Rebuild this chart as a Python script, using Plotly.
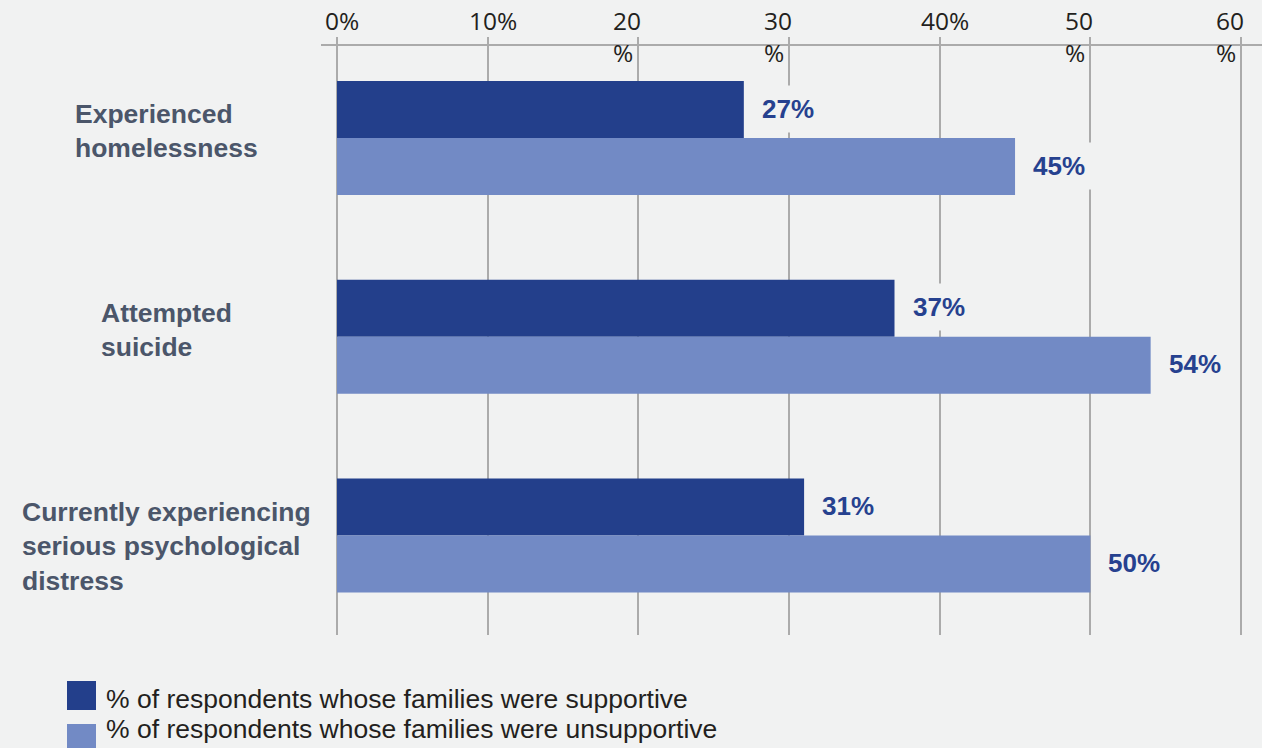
import plotly.graph_objects as go

# ---------------- data ----------------
categories = ["Experienced homelessness", "Attempted suicide",
              "Currently experiencing serious psychological distress"]
category_labels = ["Experienced<br>homelessness", "Attempted<br>suicide",
                   "Currently experiencing<br>serious psychological<br>distress"]
supportive = [27, 37, 31]
unsupportive = [45, 54, 50]
series_names = ["% of respondents whose families were supportive",
                "% of respondents whose families were unsupportive"]
tick_vals = [0, 10, 20, 30, 40, 50, 60]
tick_labels = ["0%", "10%", "20<br>%", "30<br>%", "40%", "50<br>%", "60<br>%"]

# ---------------- style ----------------
BG = "#f1f2f2"
DARK = "#233f8b"
LIGHT = "#728ac5"
LABEL_BLUE = "#26418f"
CAT_COLOR = "#4b566a"
GRID = "#ababab"
TEXT = "#231f20"

W, H = 1262, 748
M_L, M_R, M_T, M_B = 321, 0, 46, 113
PW, PH = W - M_L - M_R, H - M_T - M_B
BARGAP = 0.4264


def px_x(px):
    return (px - M_L) / PW


def px_y(py):
    return (H - M_B - py) / PH


fig = go.Figure()
for name, vals, col in [(series_names[0], supportive, DARK),
                        (series_names[1], unsupportive, LIGHT)]:
    fig.add_trace(go.Bar(
        y=categories, x=vals, name=name, orientation="h",
        marker=dict(color=col, line=dict(width=0)),
        showlegend=False, hoverinfo="x+name",
    ))

annotations = []
# tick labels (top axis)
for v, lab in zip(tick_vals, tick_labels):
    wrapped = "<br>" in lab
    annotations.append(dict(
        x=v, xref="x", y=px_y(2), yref="paper",
        text=lab, showarrow=False,
        xanchor="left" if wrapped else "center",
        xshift=-27 if wrapped else 5,
        yanchor="top", align="left",
        font=dict(family="Open Sans", size=24.5, color=TEXT),
    ))

# category labels
for cat, lab in zip(categories, category_labels):
    annotations.append(dict(
        x=px_x(166), xref="paper", y=cat, yref="y",
        text=lab, showarrow=False, xanchor="center", yanchor="top",
        yshift=41, align="left",
        font=dict(family="Liberation Sans, Arial", size=26.5, color=CAT_COLOR,
                  weight="bold"),
    ))

# value labels
bw = (1 - BARGAP) / 2
for ti, vals in enumerate([supportive, unsupportive]):
    for j, v in enumerate(vals):
        annotations.append(dict(
            x=v, xref="x", y=j + (ti - 0.5) * bw, yref="y",
            text=f"{v}%", showarrow=False, xanchor="left", yanchor="middle",
            xshift=9, yshift=1, bgcolor=BG, borderpad=8,
            font=dict(family="Liberation Sans, Arial", size=26, color=LABEL_BLUE,
                      weight="bold"),
        ))

# manual legend
shapes = []
legend_rows = [(681, 708), (724, 738)]  # (swatch top, text baseline) in px
for (top, base), name, col in zip(legend_rows, series_names, [DARK, LIGHT]):
    shapes.append(dict(type="rect", xref="paper", yref="paper",
                       x0=px_x(67), x1=px_x(96), y0=px_y(top), y1=px_y(top + 29),
                       fillcolor=col, line=dict(width=0), layer="above"))
    annotations.append(dict(
        x=px_x(104), xref="paper", y=px_y(base - 9), yref="paper",
        text=name, showarrow=False, xanchor="left", yanchor="middle",
        font=dict(family="Liberation Sans, Arial", size=26.5, color=TEXT),
    ))

fig.update_layout(
    width=W, height=H,
    margin=dict(l=M_L, r=M_R, t=M_T, b=M_B, pad=0),
    paper_bgcolor=BG, plot_bgcolor=BG,
    barmode="group", bargap=BARGAP, bargroupgap=0,
    showlegend=False,
    annotations=annotations, shapes=shapes,
    xaxis=dict(
        side="top", range=[-1.062, 61.39],
        tickvals=tick_vals, showticklabels=False,
        ticks="outside", ticklen=7, tickwidth=1.5, tickcolor=GRID,
        showgrid=True, gridcolor=GRID, gridwidth=1.5,
        showline=True, linecolor=GRID, linewidth=1.5,
        zeroline=False, fixedrange=True,
    ),
    yaxis=dict(
        type="category", categoryorder="array", categoryarray=categories,
        range=[2.5006, -0.4629], showticklabels=False, showgrid=False,
        zeroline=False, showline=False, ticks="", fixedrange=True,
    ),
)

fig.write_html("out.html", config={"displayModeBar": False})
